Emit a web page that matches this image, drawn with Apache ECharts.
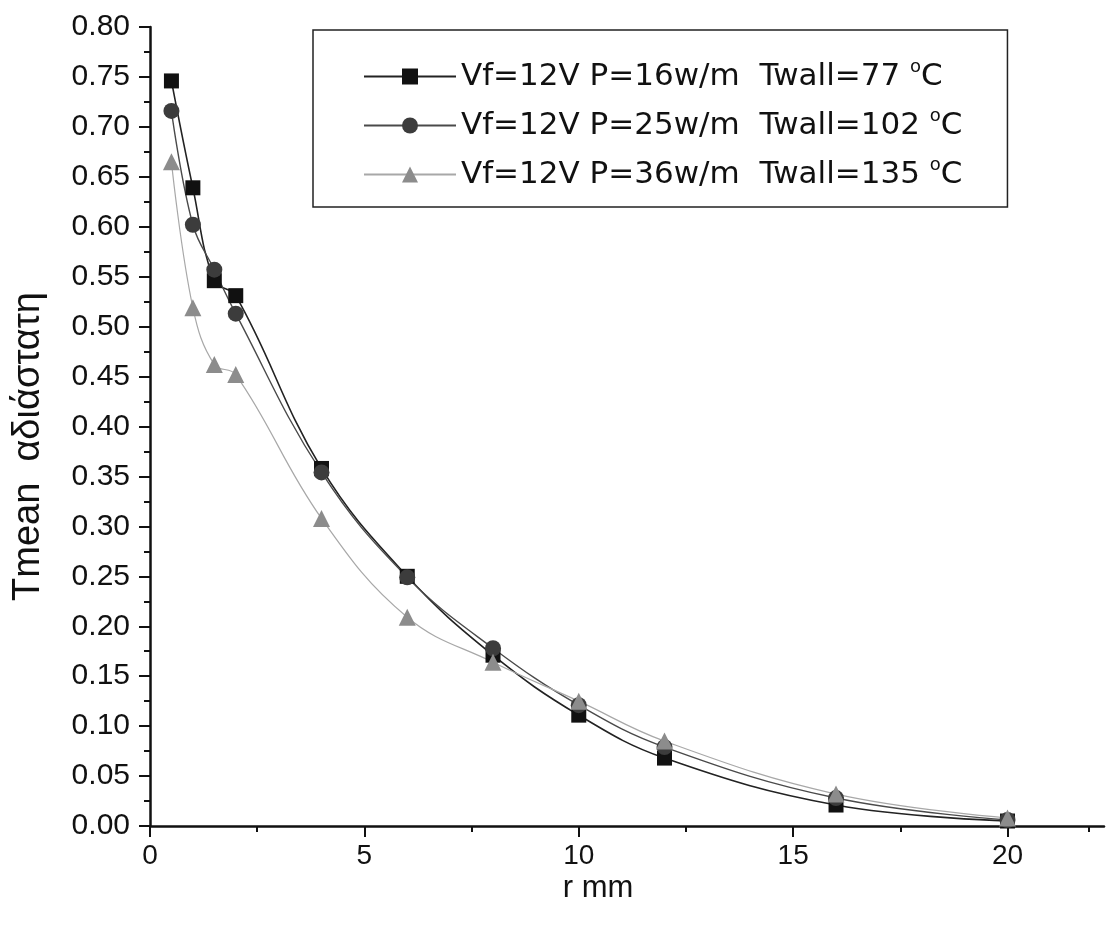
<!DOCTYPE html>
<html>
<head>
<meta charset="utf-8">
<script src="https://cdn.jsdelivr.net/npm/echarts@6/dist/echarts.min.js"></script>
<style>
html,body{margin:0;padding:0;background:#fff;}
#chart{width:1106px;height:928px;}
</style>
</head>
<body>
<div id="chart"></div>
<script>
// ---- data ----
const rValues = [0.5, 1, 1.5, 2, 4, 6, 8, 10, 12, 16, 20];
const seriesNames = [
  'Vf=12V P=16w/m  Twall=77 °C',
  'Vf=12V P=25w/m  Twall=102 °C',
  'Vf=12V P=36w/m  Twall=135 °C'
];
const p16 = [0.746, 0.639, 0.546, 0.531, 0.358, 0.250, 0.171, 0.111, 0.068, 0.021, 0.005];
const p25 = [0.716, 0.602, 0.557, 0.513, 0.354, 0.249, 0.178, 0.121, 0.079, 0.028, 0.006];
const p36 = [0.665, 0.519, 0.462, 0.452, 0.308, 0.209, 0.164, 0.125, 0.085, 0.032, 0.008];
const xMajorTicks = [0, 5, 10, 15, 20];
const xMinorTicks = [2.5, 7.5, 12.5, 17.5, 21.9];
const xAxisTitle = 'r mm';
const yAxisTitle = 'Tmean  αδιάστατη';

const pairs = ys => rValues.map((x, i) => [x, ys[i]]);

const chart = echarts.init(document.getElementById('chart'), null, {renderer: 'canvas'});
const axisColor = '#111';
const labelFont = 'Liberation Sans, Arial, sans-serif';

const option = {
  backgroundColor: '#fff',
  animation: false,
  grid: {left: 150, right: 2, top: 27, bottom: 102, containLabel: false},
  legend: {
    orient: 'vertical',
    left: 313,
    top: 30,
    padding: [28, 45, 17, 50],
    itemWidth: 92,
    itemHeight: 20,
    itemGap: 15,
    borderColor: '#222',
    borderWidth: 1.5,
    backgroundColor: '#fff',
    data: seriesNames,
    formatter: name => '{t|' + name.replace(' °C', ' ') + '}{s|o}{t|C}',
    textStyle: {
      color: '#111',
      rich: {
        t: {fontFamily: 'DejaVu Sans, sans-serif', fontSize: 31, lineHeight: 37, color: '#111'},
        s: {fontFamily: 'DejaVu Sans, sans-serif', fontSize: 18, lineHeight: 18, verticalAlign: 'top', color: '#111'}
      }
    }
  },
  xAxis: [{
    type: 'value',
    min: 0,
    max: 22.25,
    interval: 5,
    name: xAxisTitle,
    nameLocation: 'middle',
    nameGap: 47,
    nameMoveOverlap: false,
    nameTextStyle: {fontFamily: labelFont, fontSize: 31, color: '#111', padding: [0, 58, 0, 0]},
    axisLine: {show: true, onZero: false, lineStyle: {color: axisColor, width: 2.5}},
    axisTick: {show: true, inside: false, length: 11, customValues: xMajorTicks, lineStyle: {color: axisColor, width: 2}},
    axisLabel: {show: true, customValues: xMajorTicks, fontFamily: labelFont, fontSize: 28, color: '#111', margin: 16},
    splitLine: {show: false}
  }, {
    type: 'value',
    min: 0,
    max: 22.25,
    position: 'bottom',
    axisLine: {show: false},
    axisTick: {show: true, length: 6, customValues: xMinorTicks, lineStyle: {color: axisColor, width: 2}},
    axisLabel: {show: false},
    splitLine: {show: false}
  }],
  yAxis: {
    type: 'value',
    min: 0,
    max: 0.8,
    interval: 0.05,
    name: yAxisTitle,
    nameLocation: 'middle',
    nameRotate: 90,
    nameGap: 102,
    nameTextStyle: {fontFamily: labelFont, fontSize: 38, color: '#111', padding: [0, 40, 0, 0]},
    axisLine: {show: true, lineStyle: {color: axisColor, width: 2.5}},
    axisTick: {show: true, inside: false, length: 11, lineStyle: {color: axisColor, width: 2}},
    minorTick: {show: true, splitNumber: 2, length: 6, lineStyle: {color: axisColor, width: 2}},
    axisLabel: {fontFamily: labelFont, fontSize: 30, color: '#111', margin: 20, formatter: v => v.toFixed(2)},
    splitLine: {show: false}
  },
  series: [{
    name: seriesNames[0],
    type: 'line',
    data: pairs(p16),
    smooth: 0.4,
    symbol: 'rect',
    symbolSize: 15,
    itemStyle: {color: '#111'},
    lineStyle: {color: '#222', width: 1.6}
  }, {
    name: seriesNames[1],
    type: 'line',
    data: pairs(p25),
    smooth: 0.4,
    symbol: 'circle',
    symbolSize: 16,
    itemStyle: {color: '#3c3c3c'},
    lineStyle: {color: '#4a4a4a', width: 1.4}
  }, {
    name: seriesNames[2],
    type: 'line',
    data: pairs(p36),
    smooth: 0.4,
    symbol: 'triangle',
    symbolSize: 17,
    itemStyle: {color: '#8c8c8c'},
    lineStyle: {color: '#a8a8a8', width: 1.2}
  }]
};
chart.setOption(option);
</script>
</body>
</html>
